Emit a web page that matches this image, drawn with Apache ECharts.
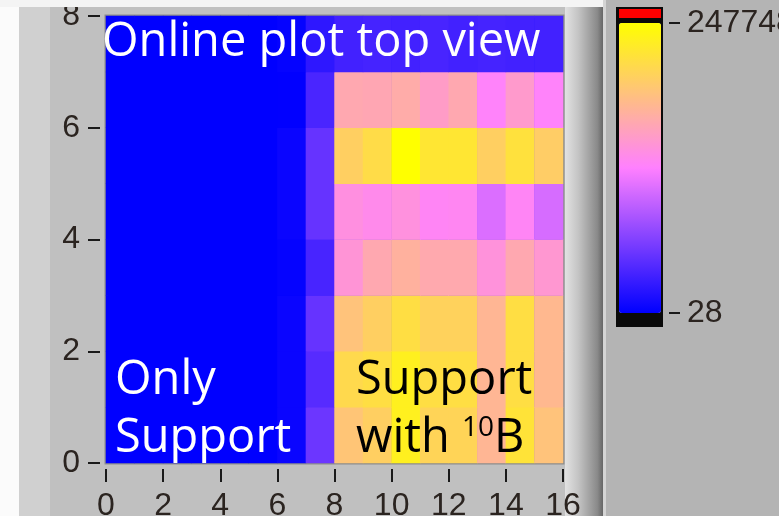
<!DOCTYPE html>
<html>
<head>
<meta charset="utf-8">
<script src="https://cdn.jsdelivr.net/npm/echarts@6/dist/echarts.min.js"></script>
<style>
  html, body { margin: 0; padding: 0; background: #c0c0c0; }
  #chart { width: 779px; height: 516px; }
</style>
</head>
<body>
<div id="chart"></div>
<script>
// Intensity map: 16 x 8 cells, counts per cell (row 0 at the bottom).
const xCells = [0, 1, 2, 3, 4, 5, 6, 7, 8, 9, 10, 11, 12, 13, 14, 15];
const yCells = [0, 1, 2, 3, 4, 5, 6, 7];

const row0 = [60, 45, 80, 50, 70, 90, 5010, 52100, 190800, 200700, 232900, 205600, 205600, 175900, 220500, 188300];
const row1 = [70, 50, 40, 90, 60, 80, 4980, 42100, 210600, 215500, 232900, 215500, 215500, 175900, 215500, 178400];
const row2 = [40, 60, 70, 50, 80, 30, 4950, 49600, 188300, 200700, 215500, 203200, 203200, 175900, 215500, 178400];
const row3 = [50, 40, 60, 70, 45, 55, 2500, 34700, 143700, 162300, 171000, 163500, 163500, 141200, 162300, 146200];
const row4 = [65, 35, 55, 40, 75, 45, 4980, 49600, 138800, 133800, 140000, 128800, 130100, 106500, 128800, 104100];
const row5 = [45, 70, 35, 60, 50, 65, 4980, 49600, 200700, 213100, 247748, 223000, 223000, 200700, 218000, 198200];
const row6 = [55, 40, 65, 45, 60, 50, 300, 35900, 162500, 161000, 166000, 151100, 162300, 126400, 148700, 126400];
const row7 = [28, 50, 45, 60, 40, 55, 2500, 22300, 32200, 33500, 32200, 34700, 32200, 33500, 32200, 32200];
const rows = [row0, row1, row2, row3, row4, row5, row6, row7];

// Axis ticks and colour-scale range
const xTicks = [0, 2, 4, 6, 8, 10, 12, 14, 16];
const yTicks = [0, 2, 4, 6, 8];
const scaleMin = 28;
const scaleMax = 247748;
const rampColors = ['#0000ff', '#8040ff', '#ff80ff', '#ffc080', '#ffff00'];

const cells = [];
rows.forEach((row, y) => row.forEach((v, x) => cells.push([x, y, v])));

const tickFont = { fontFamily: 'Liberation Sans', fontSize: 32, color: '#2b2420' };
const tickLine = { color: '#1a1a1a', width: 2 };
const noteFont = 'Open Sans';

const chart = echarts.init(document.getElementById('chart'), null, { renderer: 'canvas' });

chart.setOption({
  backgroundColor: '#c0c0c0',
  animation: false,
  grid: [
    { left: 106, top: 16, width: 457, height: 447, show: true, containLabel: false,
      outerBoundsMode: 'none',
      borderColor: '#8c8c8c', borderWidth: 3, backgroundColor: '#0000ff' },
    { left: 619, top: 23, width: 42, height: 290, show: false, containLabel: false,
      outerBoundsMode: 'none' }
  ],
  xAxis: [
    { type: 'category', gridIndex: 0, data: xCells, position: 'top', show: false },
    { type: 'value', gridIndex: 0, min: xTicks[0], max: xTicks[xTicks.length - 1], interval: 2,
      position: 'bottom', offset: 6,
      axisLine: { show: false, onZero: false },
      axisTick: { show: true, length: 13, lineStyle: tickLine },
      axisLabel: Object.assign({ margin: 21 }, tickFont),
      splitLine: { show: false } },
    { type: 'value', gridIndex: 1, show: false, min: 0, max: 1 }
  ],
  yAxis: [
    { type: 'category', gridIndex: 0, data: yCells, position: 'right', show: false },
    { type: 'value', gridIndex: 0, min: yTicks[0], max: yTicks[yTicks.length - 1], interval: 2,
      position: 'left', offset: 6,
      axisLine: { show: false, onZero: false },
      axisTick: { show: true, length: 12, lineStyle: tickLine },
      axisLabel: Object.assign({ margin: 20 }, tickFont),
      splitLine: { show: false } },
    // colour-ramp scale: only its two end values are marked
    { type: 'value', gridIndex: 1, min: scaleMin, max: scaleMax, interval: scaleMax - scaleMin,
      position: 'right', offset: 8,
      axisLine: { show: false, onZero: false },
      axisTick: { show: true, length: 11, lineStyle: tickLine },
      axisLabel: Object.assign({ margin: 18, showMinLabel: true, showMaxLabel: true,
                                 formatter: v => String(v) }, tickFont),
      splitLine: { show: false } }
  ],
  visualMap: {
    type: 'continuous',
    seriesIndex: 0,
    dimension: 2,
    min: scaleMin,
    max: scaleMax,
    calculable: false,
    hoverLink: false,
    orient: 'vertical',
    left: 619,
    top: 23,
    padding: 0,
    itemWidth: 42,
    itemHeight: 290,
    text: null,
    inRange: { color: rampColors }
  },
  series: [{
    type: 'heatmap',
    xAxisIndex: 0,
    yAxisIndex: 0,
    data: cells,
    emphasis: { disabled: true },
    itemStyle: { borderWidth: 0 }
  }],
  graphic: [
    // panel backdrop
    { type: 'rect', z: -10, shape: { x: 0, y: 0, width: 19, height: 516 }, style: { fill: '#fbfbfb' } },
    { type: 'rect', z: -10, shape: { x: 19, y: 0, width: 31, height: 516 }, style: { fill: '#d0d0d0' } },
    { type: 'rect', z: -10, shape: { x: 565, y: 0, width: 38, height: 516 },
      style: { fill: new echarts.graphic.LinearGradient(0, 0, 1, 0, [
        { offset: 0, color: '#e2e2e2' }, { offset: 0.35, color: '#c4c4c4' },
        { offset: 0.85, color: '#8a8a8a' }, { offset: 1, color: '#666666' }]) } },
    { type: 'rect', z: -10, shape: { x: 603, y: 0, width: 3, height: 516 }, style: { fill: '#d4d4d4' } },
    { type: 'rect', z: -10, shape: { x: 606, y: 0, width: 173, height: 516 }, style: { fill: '#b4b4b4' } },
    { type: 'rect', z: 50, shape: { x: 0, y: 0, width: 603, height: 7 }, style: { fill: '#f4f4f4' } },
    // colour-ramp frame with the over-range swatch
    { type: 'rect', z: -5, shape: { x: 616, y: 7, width: 47, height: 320 }, style: { fill: '#0a0a0a' } },
    { type: 'rect', z: -4, shape: { x: 619, y: 9, width: 42, height: 9 }, style: { fill: '#ff0000' } },
    // annotations
    { type: 'text', z: 60, left: 102, top: 19,
      style: { text: 'Online plot top view', font: '47px "' + noteFont + '"', fill: '#ffffff' } },
    { type: 'text', z: 60, left: 115, top: 352,
      style: { text: 'Only\nSupport', font: '47px "' + noteFont + '"', lineHeight: 58, fill: '#ffffff' } },
    { type: 'text', z: 60, left: 356, top: 352,
      style: {
        text: '{a|Support}\n{a|with }{s|10}{a|B}',
        lineHeight: 58,
        fill: '#000000',
        rich: {
          a: { font: '47px "' + noteFont + '"', fill: '#000000', lineHeight: 58 },
          s: { font: '28px "' + noteFont + '"', fill: '#000000', lineHeight: 58, padding: [0, 0, 22, 0] }
        }
      } }
  ]
});
</script>
</body>
</html>
